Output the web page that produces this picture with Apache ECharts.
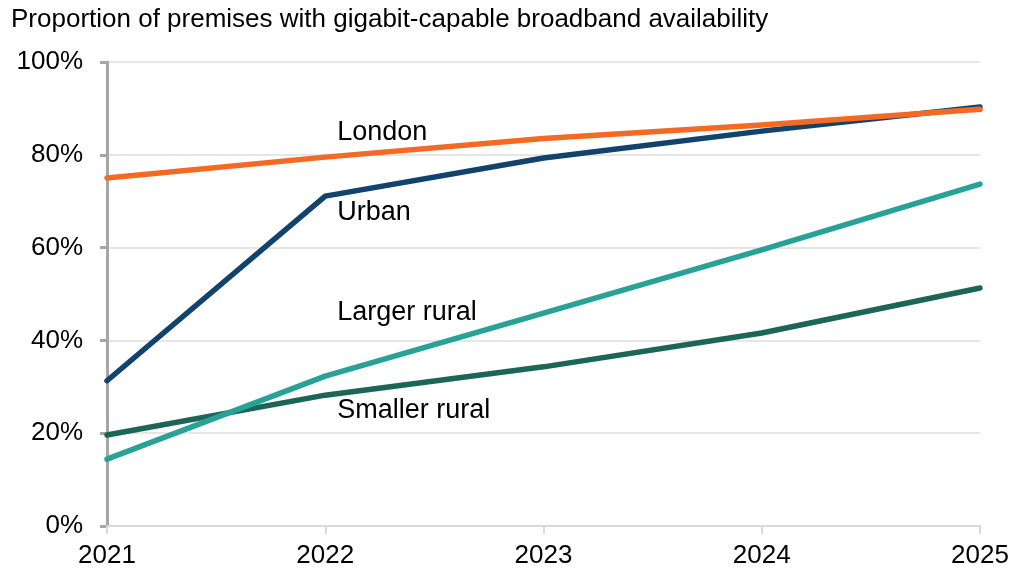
<!DOCTYPE html>
<html>
<head>
<meta charset="utf-8">
<script src="https://cdn.jsdelivr.net/npm/echarts@6/dist/echarts.min.js"></script>
<style>
html,body{margin:0;padding:0;background:#fff;}
#chart{width:1013px;height:572px;}
</style>
</head>
<body>
<div id="chart"></div>
<script>
const years = ['2021', '2022', '2023', '2024', '2025'];
const london = [75.0, 79.5, 83.5, 86.4, 89.8];
const urban = [31.3, 71.1, 79.3, 85.1, 90.3];
const largerRural = [14.4, 32.3, 45.9, 59.5, 73.7];
const smallerRural = [19.6, 28.2, 34.3, 41.6, 51.3];
const yTicks = [0, 20, 40, 60, 80, 100];
const seriesNames = ['London', 'Urban', 'Larger rural', 'Smaller rural'];
const seriesColors = ['#f46a25', '#12436d', '#28a197', '#1b6658'];
// label anchors: category and value (%) of the label's vertical centre
const labelCats = ['2022', '2022', '2022', '2022'];
const labelVals = [84.9, 67.6, 46.1, 24.8];

const FONT = 'Liberation Sans, Arial, sans-serif';
const FS = 26;
const chart = echarts.init(document.getElementById('chart'), null, {renderer: 'canvas'});

const allData = [london, urban, largerRural, smallerRural];
const series = allData.map((d, i) => ({
  name: seriesNames[i],
  type: 'line',
  data: d,
  symbol: 'none',
  lineStyle: {color: seriesColors[i], width: 5.5, cap: 'round', join: 'round'},
  z: 10 - i,
  markPoint: {
    symbol: 'circle',
    symbolSize: 0,
    silent: true,
    data: [{coord: [labelCats[i], labelVals[i]]}],
    label: {
      show: true,
      position: 'inside',
      align: 'left',
      verticalAlign: 'middle',
      offset: [12, 0],
      formatter: seriesNames[i],
      color: '#000',
      fontSize: 27,
      fontFamily: FONT
    }
  }
}));
series[0].z = 20;

chart.setOption({
  animation: false,
  backgroundColor: '#fff',
  title: {
    text: 'Proportion of premises with gigabit-capable broadband availability',
    left: 6,
    top: 2,
    textStyle: {fontSize: 26, fontWeight: 'normal', color: '#000', fontFamily: FONT}
  },
  grid: {left: 107, right: 33, top: 62, bottom: 46, containLabel: false},
  xAxis: {
    type: 'category',
    data: years,
    boundaryGap: false,
    axisLine: {show: true, lineStyle: {color: '#d9d9d9', width: 2}},
    axisTick: {show: true, length: 8, lineStyle: {color: '#d9d9d9', width: 2}},
    axisLabel: {color: '#000', fontSize: FS, fontFamily: FONT, margin: 17},
    splitLine: {show: false}
  },
  yAxis: {
    type: 'value',
    min: yTicks[0],
    max: yTicks[yTicks.length - 1],
    interval: 20,
    axisLine: {show: true, lineStyle: {color: '#a6a6a6', width: 3}},
    axisTick: {show: true, length: 7, lineStyle: {color: '#a6a6a6', width: 3}},
    axisLabel: {color: '#000', fontSize: FS, fontFamily: FONT, margin: 24, formatter: v => v + '%'},
    splitLine: {show: true, lineStyle: {color: '#e6e6e6', width: 2}}
  },
  series: series
});
</script>
</body>
</html>
